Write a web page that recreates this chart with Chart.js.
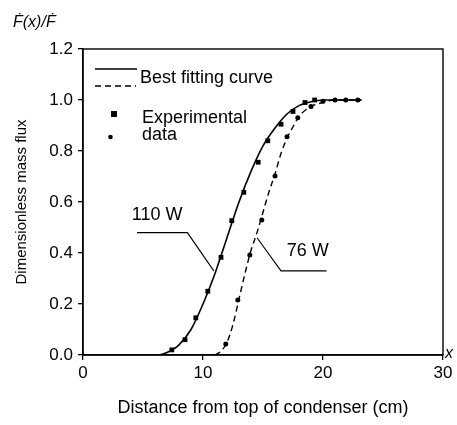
<!DOCTYPE html>
<html>
<head>
<meta charset="utf-8">
<script src="https://cdn.jsdelivr.net/npm/chart.js@4.4.1/dist/chart.umd.min.js"></script>
<style>
  html, body { margin: 0; padding: 0; background: #fff; }
</style>
</head>
<body>
<canvas id="chart" width="457" height="425"></canvas>
<script>
// values
const xTicks = [0, 10, 20, 30];
const yTicks = [0, 0.2, 0.4, 0.6, 0.8, 1.0, 1.2];

const exp110X = [7.4, 8.5, 9.4, 10.4, 11.5, 12.4, 13.4, 14.6, 15.4, 16.5, 17.5, 18.5, 19.3];
const exp110Y = [0.02, 0.06, 0.146, 0.25, 0.383, 0.527, 0.638, 0.756, 0.84, 0.905, 0.955, 0.99, 1.0];

const exp76X = [11.9, 12.9, 13.9, 14.9, 16.0, 17.0, 17.9, 19.0, 20.0, 21.0, 21.9, 22.9];
const exp76Y = [0.043, 0.216, 0.392, 0.529, 0.702, 0.856, 0.93, 0.975, 0.995, 1.0, 1.0, 1.0];

const fit110X = [0, 6.3, 7, 8, 9, 10, 11, 12, 13, 14, 15, 16, 17, 18, 19, 20, 23.2];
const fit110Y = [0, 0, 0.01, 0.04, 0.1, 0.2, 0.32, 0.46, 0.6, 0.72, 0.82, 0.89, 0.945, 0.978, 0.993, 1.0, 1.0];

const fit76X = [11.0, 11.5, 12, 12.5, 13, 13.5, 14, 14.5, 15, 15.5, 16, 16.5, 17, 17.5, 18, 19, 20, 21, 23.2];
const fit76Y = [0, 0.015, 0.05, 0.12, 0.22, 0.32, 0.41, 0.48, 0.56, 0.64, 0.71, 0.79, 0.85, 0.895, 0.935, 0.975, 0.99, 1.0, 1.0];

const leader110X = [4.5, 8.7, 10.9];
const leader110Y = [0.48, 0.48, 0.33];
const leader76X = [14.5, 16.5, 20.3];
const leader76Y = [0.46, 0.33, 0.33];

const label110 = { text: '110 W', x: 4.06, y: 0.529 };
const label76 = { text: '76 W', x: 16.98, y: 0.388 };

const FONT = 'Liberation Sans, Arial, Helvetica, sans-serif';

function pts(xs, ys) {
  return xs.map((x, i) => ({ x: x, y: ys[i] }));
}

// frame, legend and labels drawn on top
const extras = {
  id: 'extras',
  afterDraw(chart) {
    const ctx = chart.ctx;
    const a = chart.chartArea;
    const sx = chart.scales.x, sy = chart.scales.y;
    ctx.save();
    ctx.strokeStyle = '#000';
    ctx.lineWidth = 1.4;
    ctx.strokeRect(a.left, a.top, a.right - a.left, a.bottom - a.top);

    ctx.fillStyle = '#000';
    ctx.textBaseline = 'alphabetic';
    ctx.textAlign = 'left';
    ctx.font = '18px ' + FONT;

    // legend
    ctx.lineWidth = 1.4;
    ctx.beginPath();
    ctx.moveTo(95, 69); ctx.lineTo(137, 69);
    ctx.stroke();
    ctx.setLineDash([6, 4]);
    ctx.beginPath();
    ctx.moveTo(95, 86); ctx.lineTo(136, 86);
    ctx.stroke();
    ctx.setLineDash([]);
    ctx.fillText('Best fitting curve', 140, 83);
    ctx.fillRect(111, 111, 6, 6);
    ctx.fillText('Experimental', 142, 123);
    ctx.beginPath();
    ctx.arc(110.5, 137, 2.3, 0, Math.PI * 2);
    ctx.fill();
    ctx.fillText('data', 142, 140);

    // curve labels
    ctx.fillText(label110.text, sx.getPixelForValue(label110.x), sy.getPixelForValue(label110.y));
    ctx.fillText(label76.text, sx.getPixelForValue(label76.x), sy.getPixelForValue(label76.y));

    // corner labels
    ctx.font = 'italic 16px ' + FONT;
    ctx.fillText('\u1E1E(x)/\u1E1E', 13, 27);
    ctx.fillText('x', a.right + 2, a.bottom + 3);
    ctx.restore();
  }
};

new Chart(document.getElementById('chart'), {
  type: 'scatter',
  data: {
    datasets: [
      {
        data: pts(fit110X, fit110Y), showLine: true, borderColor: '#000', borderWidth: 1.6,
        pointRadius: 0, cubicInterpolationMode: 'monotone'
      },
      {
        data: pts(fit76X, fit76Y), showLine: true, borderColor: '#000', borderWidth: 1.4,
        borderDash: [6, 4], pointRadius: 0, cubicInterpolationMode: 'monotone'
      },
      {
        data: pts(exp110X, exp110Y), pointStyle: 'rect', pointRadius: 3.4,
        backgroundColor: '#000', borderColor: '#000', borderWidth: 0
      },
      {
        data: pts(exp76X, exp76Y), pointStyle: 'circle', pointRadius: 2.5,
        backgroundColor: '#000', borderColor: '#000', borderWidth: 0
      },
      {
        data: pts(leader110X, leader110Y), showLine: true, borderColor: '#000', borderWidth: 1.1,
        pointRadius: 0
      },
      {
        data: pts(leader76X, leader76Y), showLine: true, borderColor: '#000', borderWidth: 1.1,
        pointRadius: 0
      }
    ]
  },
  options: {
    responsive: false,
    animation: false,
    layout: { padding: { left: 0, right: 14, top: 49, bottom: 0 } },
    plugins: { legend: { display: false }, tooltip: { enabled: false } },
    scales: {
      x: {
        type: 'linear', min: 0, max: 30,
        afterFit(s) { s.height = 70; },
        afterBuildTicks(s) { s.ticks = xTicks.map(v => ({ value: v })); },
        grid: { drawOnChartArea: false, tickLength: 5, color: '#000', lineWidth: 1.3 },
        border: { color: '#000', width: 1.4 },
        ticks: { color: '#000', padding: 3, font: { family: FONT, size: 17 }, maxRotation: 0 },
        title: {
          display: true, text: 'Distance from top of condenser (cm)', color: '#000',
          font: { family: FONT, size: 18 }, padding: { top: 0, bottom: 6 }
        }
      },
      y: {
        type: 'linear', min: 0, max: 1.2,
        afterFit(s) { s.width = 83; },
        afterBuildTicks(s) { s.ticks = yTicks.map(v => ({ value: v })); },
        grid: { drawOnChartArea: false, tickLength: 5, color: '#000', lineWidth: 1.3 },
        border: { color: '#000', width: 1.4 },
        ticks: {
          color: '#000', padding: 5, font: { family: FONT, size: 17 },
          callback: v => v.toFixed(1)
        },
        title: {
          display: true, text: 'Dimensionless mass flux', color: '#000',
          font: { family: FONT, size: 15 }, padding: { top: 13, bottom: 0 }
        }
      }
    }
  },
  plugins: [extras]
});
</script>
</body>
</html>
